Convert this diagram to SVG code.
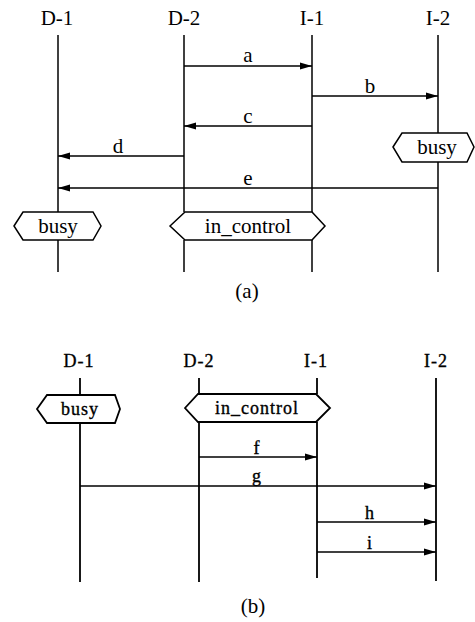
<svg xmlns="http://www.w3.org/2000/svg" width="475" height="622" viewBox="0 0 475 622">
<style>
.bg{fill:#fff}
.ll{stroke:#000;stroke-width:1.5;fill:none}
.llb{stroke:#000;stroke-width:1.8;fill:none}
.msg{stroke:#000;stroke-width:1.4;fill:none}
.msgb{stroke:#000;stroke-width:1.7;fill:none}
.box{fill:#fff;stroke:#000;stroke-width:1.5}
.boxb{fill:#fff;stroke:#000;stroke-width:1.8}
.t{font-family:"Liberation Serif","Times New Roman",serif;font-size:21px;fill:#000;text-anchor:middle}
.tb{font-family:"Liberation Serif","Times New Roman",serif;font-size:18px;fill:#000;text-anchor:middle;letter-spacing:1px;stroke:#000;stroke-width:0.35}
</style>
<defs>
<marker id="ah" markerUnits="userSpaceOnUse" markerWidth="12" markerHeight="8" refX="12" refY="4" orient="auto">
<path d="M0,0.5 L12,4 L0,7.5 z" fill="#000"/>
</marker>
</defs>
<rect class="bg" x="0" y="0" width="475" height="622"/>

<!-- (a) -->
<g id="a-D1">
<text class="t" x="57" y="25">D-1</text>
<line class="ll" x1="58" y1="35" x2="58" y2="212"/>
<line class="ll" x1="58" y1="240" x2="58" y2="272"/>
<polygon class="box" points="14,226 23,212 93,212 101,226 93,240 23,240"/>
<text class="t" x="58" y="233">busy</text>
</g>
<g id="a-D2">
<text class="t" x="184" y="25">D-2</text>
<line class="ll" x1="184" y1="35" x2="184" y2="212"/>
<line class="ll" x1="184" y1="240" x2="184" y2="272"/>
</g>
<g id="a-I1">
<text class="t" x="312" y="25">I-1</text>
<line class="ll" x1="312" y1="35" x2="312" y2="212"/>
<line class="ll" x1="312" y1="240" x2="312" y2="272"/>
</g>
<g id="a-I2">
<text class="t" x="438" y="25">I-2</text>
<line class="ll" x1="438" y1="35" x2="438" y2="133"/>
<line class="ll" x1="438" y1="162" x2="438" y2="272"/>
<polygon class="box" points="393,147 402,133 467,133 474,147 467,162 402,162"/>
<text class="t" x="437" y="154">busy</text>
</g>
<g id="a-in_control">
<polygon class="box" points="170,226 185,212 312,212 325,226 312,240 185,240"/>
<text class="t" x="248" y="233">in_control</text>
</g>
<g id="a-connectors">
<line class="msg" x1="184" y1="66" x2="312" y2="66" marker-end="url(#ah)"/>
<text class="t" x="248" y="62">a</text>
<line class="msg" x1="312" y1="96" x2="438" y2="96" marker-end="url(#ah)"/>
<text class="t" x="370" y="93">b</text>
<line class="msg" x1="312" y1="126" x2="184" y2="126" marker-end="url(#ah)"/>
<text class="t" x="248" y="123">c</text>
<line class="msg" x1="184" y1="156" x2="58" y2="156" marker-end="url(#ah)"/>
<text class="t" x="118" y="153">d</text>
<line class="msg" x1="438" y1="188" x2="58" y2="188" marker-end="url(#ah)"/>
<text class="t" x="248" y="185">e</text>
</g>
<text class="t" x="247" y="298">(a)</text>

<!-- (b) -->
<g id="b-D1">
<text class="tb" x="79" y="367">D-1</text>
<line class="llb" x1="80" y1="378" x2="80" y2="395"/>
<line class="llb" x1="80" y1="423" x2="80" y2="582"/>
<polygon class="boxb" points="37,409 47,395 115,395 120,409 115,423 47,423"/>
<text class="tb" x="80" y="415">busy</text>
</g>
<g id="b-D2">
<text class="tb" x="199" y="367">D-2</text>
<line class="llb" x1="199" y1="378" x2="199" y2="394"/>
<line class="llb" x1="199" y1="422" x2="199" y2="582"/>
</g>
<g id="b-I1">
<text class="tb" x="316" y="367">I-1</text>
<line class="llb" x1="317" y1="378" x2="317" y2="394"/>
<line class="llb" x1="317" y1="422" x2="317" y2="578"/>
</g>
<g id="b-I2">
<text class="tb" x="436" y="367">I-2</text>
<line class="llb" x1="436" y1="378" x2="436" y2="581"/>
</g>
<g id="b-in_control">
<polygon class="boxb" points="185,408 198,394 316,394 330,408 316,422 198,422"/>
<text class="tb" x="257" y="414">in_control</text>
</g>
<g id="b-connectors">
<line class="msgb" x1="199" y1="457" x2="317" y2="457" marker-end="url(#ah)"/>
<text class="tb" x="257" y="454">f</text>
<line class="msgb" x1="80" y1="486" x2="436" y2="486" marker-end="url(#ah)"/>
<text class="tb" x="257" y="482">g</text>
<line class="msgb" x1="317" y1="522" x2="436" y2="522" marker-end="url(#ah)"/>
<text class="tb" x="370" y="519">h</text>
<line class="msgb" x1="317" y1="552" x2="436" y2="552" marker-end="url(#ah)"/>
<text class="tb" x="370" y="549">i</text>
</g>
<text class="t" x="253" y="613">(b)</text>
</svg>
